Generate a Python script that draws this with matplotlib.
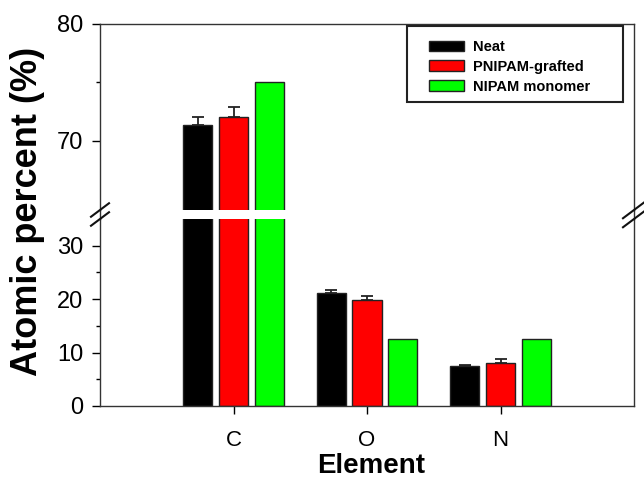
import matplotlib
matplotlib.use("Agg")
import matplotlib.pyplot as plt
import numpy as np
from matplotlib.patches import Rectangle
from matplotlib.lines import Line2D

plt.rcParams['font.family'] = ['Liberation Sans', 'DejaVu Sans']

elements = ["C", "O", "N"]
series = ["Neat", "PNIPAM-grafted", "NIPAM monomer"]
neat = [71.4, 21.2, 7.4]
neat_err = [0.65, 0.6, 0.25]
grafted = [72.05, 19.8, 8.0]
grafted_err = [0.85, 0.7, 0.75]
monomer = [75.0, 12.5, 12.5]
monomer_err = [0.0, 0.0, 0.0]

values = [neat, grafted, monomer]
errors = [neat_err, grafted_err, monomer_err]
colors = ["#000000", "#ff0000", "#00ff00"]

W, H = 644, 478
fig = plt.figure(figsize=(W / 100, H / 100), dpi=100)

def fx(px):
    return px / W

def fy(py):
    return 1 - py / H

left, right = 100, 634
ax_top = fig.add_axes([fx(left), fy(210), fx(right - left), (210 - 24) / H])
ax_bot = fig.add_axes([fx(left), fy(406), fx(right - left), (406 - 219) / H])

x = np.arange(1, len(elements) + 1)
width = 0.218
offsets = [-0.268, 0.0, 0.268]

for ax in (ax_top, ax_bot):
    for vals, errs, col, off, name in zip(values, errors, colors, offsets, series):
        ax.bar(x + off, vals, width, color=col, edgecolor="#222222", linewidth=1.0,
               label=name, zorder=2)
        e = np.array(errs)
        mask = e > 0
        ax.errorbar((x + off)[mask], np.array(vals)[mask],
                    yerr=[np.zeros(mask.sum()), e[mask]], fmt="none",
                    ecolor="#222222", elinewidth=1.3, capsize=4, capthick=1.3, zorder=3)
    ax.set_xlim(0, 4)
    for s in ax.spines.values():
        s.set_linewidth(1.0)
        s.set_color("#333333")
    ax.tick_params(axis="y", which="major", direction="out", length=6, width=1,
                   labelsize=17, pad=6, right=False)
    ax.tick_params(axis="y", which="minor", direction="out", length=3, width=1, right=False)

ax_top.set_ylim(64.1, 80)
ax_top.set_yticks([70, 80])
ax_top.set_yticks([75], minor=True)
ax_top.spines["bottom"].set_visible(False)
ax_top.tick_params(axis="x", which="both", bottom=False, top=False, labelbottom=False)

ax_bot.set_ylim(0, 35.0)
ax_bot.set_yticks([0, 10, 20, 30])
ax_bot.set_yticks([5, 15, 25], minor=True)
ax_bot.spines["top"].set_visible(False)
ax_bot.set_xticks(x)
ax_bot.set_xticklabels(elements)
ax_bot.tick_params(axis="x", which="major", direction="out", length=6, width=1,
                   labelsize=16, pad=11, top=False)

# continuous side spines through the gap
for xb in (left, right):
    fig.add_artist(Line2D([fx(xb), fx(xb)], [fy(210), fy(219)], color="#333333", lw=1.0))

# break marks
for xb, s in ((left, 9), (right, 11)):
    for yb in (210, 219):
        fig.add_artist(Line2D([fx(xb - s), fx(xb + s)], [fy(yb + s * 0.75), fy(yb - s * 0.75)],
                              color="#111111", lw=1.5))

# axis labels
fig.text(fx(28), fy(211), "Atomic percent (%)", rotation=90, ha="center", va="center",
         fontsize=26, fontweight="bold")
fig.text(fx(371), fy(473), "Element", ha="center", va="baseline",
         fontsize=20, fontweight="bold")

# legend
handles, labels = ax_top.get_legend_handles_labels()
leg = fig.legend(handles[:3], labels[:3], loc="upper left",
                 bbox_to_anchor=(fx(429), fy(40)), frameon=False, borderpad=0,
                 borderaxespad=0, handlelength=2.4, handleheight=0.75, handletextpad=0.6,
                 labelspacing=0.4, prop={"size": 10.5, "weight": "bold"})
fig.add_artist(Rectangle((fx(407), fy(102)), fx(623 - 407), (102 - 26) / H,
                         transform=fig.transFigure, fill=False,
                         edgecolor="#222222", lw=1.5))

fig.savefig("out.png", dpi=100)
